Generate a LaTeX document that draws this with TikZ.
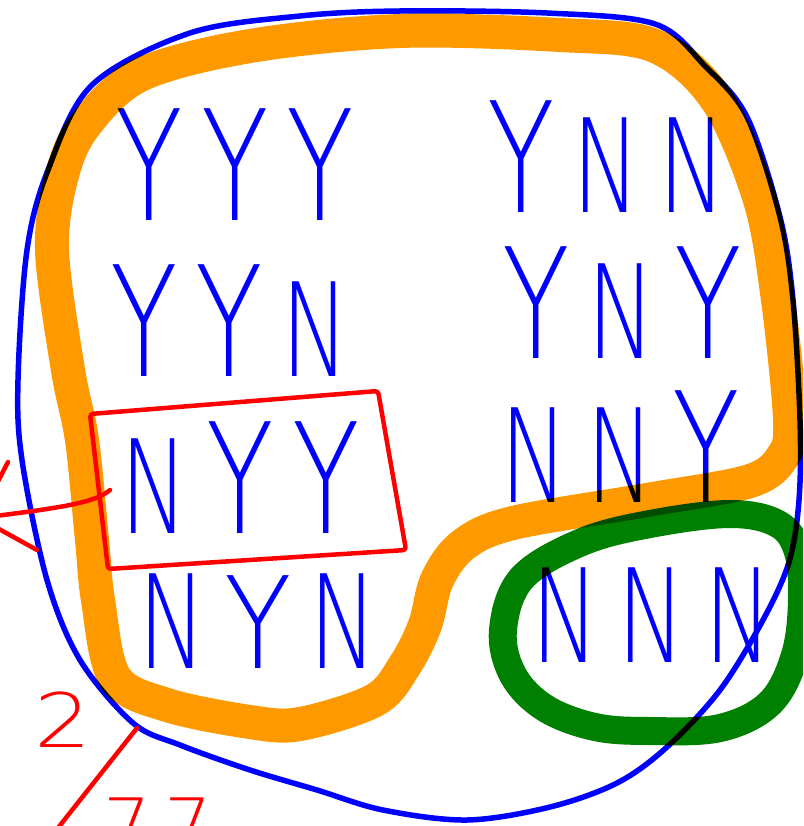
\documentclass[tikz,border=0pt]{standalone}
\usepackage{fontspec}
\newfontfamily\handfont{DejaVu Sans ExtraLight}
\definecolor{hblue}{RGB}{0,0,255}
\definecolor{hred}{RGB}{255,0,0}
\definecolor{horange}{RGB}{255,153,0}
\definecolor{hgreen}{RGB}{0,128,0}
\newcommand\hy{\scalebox{0.85}[1.18]{Y}}
\newcommand\hys{\scalebox{0.85}[0.98]{Y}}
\newcommand\hn{\scalebox{0.7}[1.0]{N}}
\newcommand\hgap{\hspace{18pt}}
\begin{document}
\begin{tikzpicture}[x=1pt,y=-1pt,
  word/.style={text=hblue, font=\handfont\fontsize{130}{135}\selectfont, inner sep=0pt, anchor=base},
  redtext/.style={text=hred, font=\handfont\fontsize{75}{80}\selectfont, inner sep=0pt, anchor=base},
  outline/.style={draw=hblue, line width=5.5, line cap=round, line join=round},
  highlight/.style={draw=horange, line width=34, line cap=round, line join=round},
  ring/.style={draw=hgreen, line width=28, line cap=round, line join=round},
  redpen/.style={draw=hred, line width=4.5, line cap=round, line join=round}]
\useasboundingbox (0,0) rectangle (803,826);
\clip (0,0) rectangle (803,826);
\fill[white] (0,0) rectangle (803,826);

% blue outer loop
\draw[outline] plot[smooth cycle, tension=0.55] coordinates {
 (400,11) (547,13) (655,24) (705,66) (747,117) (780,217) (793,300) (800,420)
 (799,500) (789,562) (763,620) (720,690) (667,747) (617,783) (550,807)
 (467,820) (383,810) (317,790) (250,770) (180,745) (133,723) (80,660)
 (47,580) (22,460) (18,380) (27,250) (48,170) (92,85) (190,33) (300,16)};

% words
\node[word] (yyy) at (235,220) {\hy\hgap\hy\hgap\hy};
\node[word] (yyn) at (230,376) {\hy\hgap\hy\hgap\hn};
\node[word] (nyy) at (240,533) {\hn\hgap\hy\hgap\hy};
\node[word] (nyn) at (258,668) {\hn\hgap\hys\hgap\hn};
\node[word] (ynn) at (607,212) {\hy\hgap\hn\hgap\hn};
\node[word] (yny) at (622,358) {\hy\hgap\hn\hgap\hy};
\node[word] (nny) at (620,502) {\hn\hgap\hn\hgap\hy};
\node[word] (nnn) at (652,662) {\hn\hgap\hn\hgap\hn};

% red box and arrow
\coordinate (b1) at (90,414);
\coordinate (b2) at (378,391);
\coordinate (b3) at (406,550);
\coordinate (b4) at (108,569);
\draw[redpen, rounded corners=3] (b1) -- (b2) -- (b3) -- (b4) -- cycle;
\coordinate (boxw) at (110,490);
\coordinate (tip) at (-21,518);
\coordinate (barba) at (8,462);
\coordinate (barbb) at (37,550);
\draw[redpen] (boxw) .. controls (95,503) and (60,508) .. (tip);
\draw[redpen] (barba) -- (tip) -- (barbb);

% red fraction
\node[redtext] (two) at (63,747) {\scalebox{1.2}[1]{2}};
\coordinate (sl1) at (137,728);
\coordinate (sl2) at (50,838);
\draw[redpen] (sl1) -- (sl2);
\node[redtext] (den) at (158,852) {7\hspace{14pt}7};

% highlighter strokes
\begin{scope}[blend mode=multiply]
\draw[highlight] plot[smooth cycle, tension=0.55] coordinates {
 (400,31) (560,35) (655,46) (717,100) (760,200) (778,300) (790,420)
 (783,456) (750,481) (647,500) (513,523) (463,545) (437,580) (425,625)
 (405,665) (375,700) (300,724) (250,722) (167,705) (115,678) (98,600)
 (92,540) (82,440) (68,370) (52,250) (62,175) (85,125) (140,75) (250,46)};
\draw[ring] plot[smooth cycle, tension=0.6] coordinates {
 (503,630) (522,578) (582,542) (650,524) (730,514) (778,524) (798,552)
 (802,600) (795,655) (770,703) (720,728) (650,731) (595,727) (545,708) (513,675)};
\end{scope}
\end{tikzpicture}
\end{document}
